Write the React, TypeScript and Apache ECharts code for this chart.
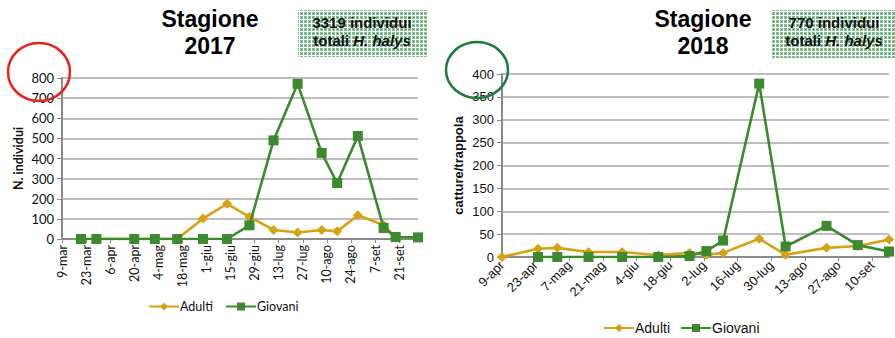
import React, { useEffect, useRef } from "react";
import * as echarts from "echarts";

const MONTHS = ["gen", "feb", "mar", "apr", "mag", "giu", "lug", "ago", "set", "ott", "nov", "dic"];

// Stagione 2017
const axisStart2017 = "2017-03-09";
const axisEnd2017 = "2017-10-02";
const dates2017 = [
  "2017-03-20", "2017-03-29", "2017-04-20", "2017-05-02", "2017-05-15", "2017-05-30",
  "2017-06-13", "2017-06-26", "2017-07-10", "2017-07-24", "2017-08-07", "2017-08-16",
  "2017-08-28", "2017-09-12", "2017-09-19", "2017-10-02",
];
const adulti2017 = [0, 0, 0, 0, 0, 102, 175, 110, 45, 32, 45, 38, 118, 70, 8, 8];
const giovani2017 = [0, 0, 0, 0, 0, 0, 0, 68, 490, 771, 428, 278, 512, 55, 10, 8];

// Stagione 2018
const axisStart2018 = "2018-04-09";
const axisEnd2018 = "2018-09-17";
const datesAdulti2018 = [
  "2018-04-09", "2018-04-24", "2018-05-02", "2018-05-15", "2018-05-29", "2018-06-13",
  "2018-06-26", "2018-07-03", "2018-07-10", "2018-07-25", "2018-08-05", "2018-08-22",
  "2018-09-04", "2018-09-17",
];
const adulti2018 = [0, 18, 20, 11, 11, 4, 9, 5, 9, 40, 5, 20, 24, 38];
const datesGiovani2018 = [
  "2018-04-24", "2018-05-02", "2018-05-15", "2018-05-29", "2018-06-13", "2018-06-26",
  "2018-07-03", "2018-07-10", "2018-07-25", "2018-08-05", "2018-08-22", "2018-09-04",
  "2018-09-17",
];
const giovani2018 = [0, 0, 0, 0, 0, 2, 13, 36, 379, 23, 68, 26, 12];

const seriesNames = ["Adulti", "Giovani"];
const titles = ["Stagione\n2017", "Stagione\n2018"];
const totals = ["3319 individui", "770 individui"];
const yNames = ["N. individui", "catture/trappola"];

const GOLD = "#D6A213";
const GREEN = "#3C8A2E";
const DAY = 86400000;

const offset = (d: string, start: string) => Math.round((Date.parse(d) - Date.parse(start)) / DAY);
const fmt = (start: string) => (v: number) => {
  const dt = new Date(Date.parse(start) + v * DAY);
  return `${dt.getUTCDate()}-${MONTHS[dt.getUTCMonth()]}`;
};
const pairs = (dates: string[], vals: number[], start: string) =>
  dates.map((d, i) => [offset(d, start), vals[i]]);

function makePattern() {
  const c = document.createElement("canvas");
  c.width = 4;
  c.height = 4;
  const ctx = c.getContext("2d")!;
  ctx.fillStyle = "#ffffff";
  ctx.fillRect(0, 0, 4, 4);
  ctx.fillStyle = "#86c294";
  ctx.fillRect(0, 0, 3, 3);
  ctx.fillStyle = "#3f8c54";
  ctx.fillRect(1, 1, 1, 1);
  return c;
}

export default function App() {
  const ref = useRef<HTMLDivElement>(null);
  useEffect(() => {
    if (!ref.current) return;
    const chart = echarts.init(ref.current, null, { renderer: "svg" });
    const pattern = makePattern();
    const lato = "Lato";
    const arial = "Liberation Sans";
    const axisGray = "#8A8A8A";
    const gridGray = "#A8A8A8";

    const lineSeries = (name: string, data: number[][], idx: number, isAdulti: boolean) => ({
      name,
      type: "line",
      xAxisIndex: idx,
      yAxisIndex: idx,
      data,
      symbol: isAdulti ? "diamond" : "rect",
      symbolSize: 10,
      lineStyle: { color: isAdulti ? GOLD : GREEN, width: 2.6 },
      itemStyle: { color: isAdulti ? GOLD : GREEN },
      z: isAdulti ? 2 : 3,
    });

    const boxText = (cx: number, total: string) => ({
      type: "text",
      x: cx,
      y: 13,
      z: 10,
      style: {
        text: `${total}\ntotali {i|H. halys}`,
        font: `bold 15px "${arial}"`,
        fill: "#111",
        align: "center",
        textAlign: "center",
        lineHeight: 18,
        rich: { i: { fontStyle: "italic", fontWeight: "bold", fontSize: 15, fontFamily: arial, fill: "#111" } },
      },
    });

    chart.setOption({
      animation: false,
      grid: [
        { left: 62, top: 78, width: 356, height: 161 },
        { left: 502, top: 74, width: 387, height: 183 },
      ],
      xAxis: [
        {
          type: "value",
          gridIndex: 0,
          min: 0,
          max: offset(axisEnd2017, axisStart2017),
          interval: 14,
          axisLine: { show: true, onZero: false, lineStyle: { color: axisGray, width: 2 } },
          axisTick: { show: true, length: 4, lineStyle: { color: axisGray } },
          axisLabel: {
            rotate: 90,
            formatter: fmt(axisStart2017),
            fontFamily: lato,
            fontSize: 12.5,
            color: "#111",
            margin: 6,
            showMaxLabel: false,
          },
          splitLine: { show: false },
        },
        {
          type: "value",
          gridIndex: 1,
          min: 0,
          max: offset(axisEnd2018, axisStart2018),
          interval: 14,
          axisLine: { show: true, onZero: false, lineStyle: { color: axisGray, width: 2 } },
          axisTick: { show: true, length: 4, lineStyle: { color: axisGray } },
          axisLabel: {
            rotate: 45,
            formatter: fmt(axisStart2018),
            fontFamily: arial,
            fontSize: 13,
            color: "#111",
            margin: 6,
            showMaxLabel: false,
          },
          splitLine: { show: false },
        },
      ],
      yAxis: [
        {
          type: "value",
          gridIndex: 0,
          min: 0,
          max: 800,
          interval: 100,
          name: yNames[0],
          nameLocation: "middle",
          nameGap: 37,
          nameTextStyle: { fontFamily: lato, fontWeight: "bold", fontSize: 12.5, color: "#111" },
          axisLine: { show: true, lineStyle: { color: axisGray, width: 2 } },
          axisTick: { show: true, length: 5, lineStyle: { color: axisGray } },
          axisLabel: { fontFamily: lato, fontSize: 13, color: "#111", margin: 8 },
          splitLine: { lineStyle: { color: gridGray, width: 1.5 } },
        },
        {
          type: "value",
          gridIndex: 1,
          min: 0,
          max: 400,
          interval: 50,
          name: yNames[1],
          nameLocation: "middle",
          nameGap: 37,
          nameTextStyle: { fontFamily: arial, fontWeight: "bold", fontSize: 13, color: "#111" },
          axisLine: { show: true, lineStyle: { color: axisGray, width: 2 } },
          axisTick: { show: true, length: 5, lineStyle: { color: axisGray } },
          axisLabel: { fontFamily: arial, fontSize: 13, color: "#111", margin: 8 },
          splitLine: { lineStyle: { color: gridGray, width: 1.5 } },
        },
      ],
      legend: [
        {
          data: seriesNames,
          left: 143,
          top: 295,
          itemWidth: 30,
          itemHeight: 10,
          itemGap: 12,
          textStyle: { fontFamily: lato, fontSize: 12.5, color: "#111", padding: [0, 0, 0, -4] },
        },
        {
          data: seriesNames,
          left: 598,
          top: 316,
          itemWidth: 30,
          itemHeight: 10,
          itemGap: 10,
          textStyle: { fontFamily: arial, fontSize: 14, color: "#111", padding: [0, 0, 0, -4] },
        },
      ],
      series: [
        lineSeries(seriesNames[0], pairs(dates2017, adulti2017, axisStart2017), 0, true),
        lineSeries(seriesNames[1], pairs(dates2017, giovani2017, axisStart2017), 0, false),
        lineSeries(seriesNames[0], pairs(datesAdulti2018, adulti2018, axisStart2018), 1, true),
        lineSeries(seriesNames[1], pairs(datesGiovani2018, giovani2018, axisStart2018), 1, false),
      ],
      graphic: [
        {
          type: "text",
          x: 210,
          y: 5,
          style: { text: titles[0], font: `bold 23px "${arial}"`, fill: "#000", textAlign: "center", lineHeight: 27 },
        },
        {
          type: "text",
          x: 703,
          y: 5,
          style: { text: titles[1], font: `bold 23px "${arial}"`, fill: "#000", textAlign: "center", lineHeight: 27 },
        },
        { type: "rect", shape: { x: 298, y: 10, width: 129, height: 47 }, style: { fill: { image: pattern, repeat: "repeat" } }, z: 5 },
        { type: "rect", shape: { x: 772, y: 10, width: 130, height: 48 }, style: { fill: { image: pattern, repeat: "repeat" } }, z: 5 },
        boxText(362, totals[0]),
        boxText(834, totals[1]),
        {
          type: "ellipse",
          shape: { cx: 39, cy: 72, rx: 31, ry: 29 },
          style: { fill: "none", stroke: "#E8231B", lineWidth: 2.5 },
          z: 20,
        },
        {
          type: "ellipse",
          shape: { cx: 477, cy: 70, rx: 31, ry: 28 },
          style: { fill: "none", stroke: "#1C7A3A", lineWidth: 2.5 },
          z: 20,
        },
      ],
    });
    return () => chart.dispose();
  }, []);
  return <div ref={ref} style={{ position: "absolute", left: 0, top: 0, width: 895, height: 338, background: "#fff" }} />;
}
